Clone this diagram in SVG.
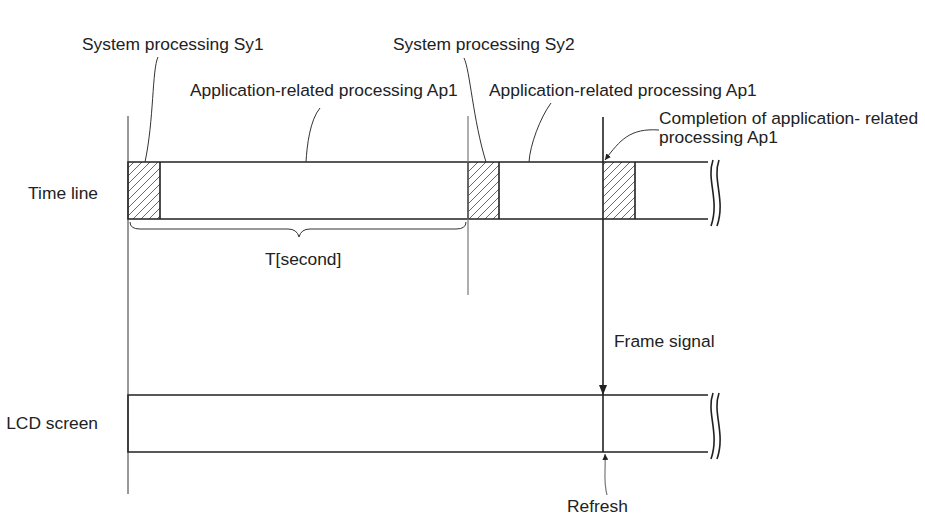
<svg xmlns="http://www.w3.org/2000/svg" width="925" height="520" viewBox="0 0 925 520">
<style>
text{font-family:"Liberation Sans",Arial,sans-serif;font-size:17.4px;fill:#222}
.l{stroke:#222;stroke-width:1.6;fill:none}
.t{stroke:#333;stroke-width:1;fill:none}
.g{stroke:#777;stroke-width:1.2;fill:none}
</style>
<defs>
<pattern id="h" width="8" height="8" patternUnits="userSpaceOnUse"><path d="M-2,10 L10,-2 M-2,2 L2,-2 M6,10 L10,6" stroke="#444" stroke-width="0.8"/></pattern>
<marker id="a" markerWidth="10" markerHeight="8" refX="10" refY="4" orient="auto" markerUnits="userSpaceOnUse"><path d="M0,0 L10,4 L0,8 Z" fill="#222"/></marker>
<marker id="s" markerWidth="6" markerHeight="6" refX="6" refY="3" orient="auto" markerUnits="userSpaceOnUse"><path d="M0,0 L6,3 L0,6 Z" fill="#222"/></marker>
</defs>
<rect width="925" height="520" fill="#fff"/>
<g id="timeline">
<rect x="128" y="162" width="32" height="57" fill="url(#h)"/>
<rect x="468" y="162" width="31" height="57" fill="url(#h)"/>
<rect x="603" y="162" width="32" height="57" fill="url(#h)"/>
<path class="l" d="M708,162 H128 V219 H708 M160,162 V219 M468,162 V219 M499,162 V219 M635,162 V219"/>
<path class="l" d="M713,160 C706,180 720,200 711,226 M719,160 C712,180 726,200 717,226"/>
<text x="98" y="199" text-anchor="end">Time line</text>
</g>
<g id="lcd">
<path class="l" d="M708,395 H128 V452 H708"/>
<path class="l" d="M713,393 C706,413 720,433 711,459 M719,393 C712,413 726,433 717,459"/>
<text x="98" y="429" text-anchor="end">LCD screen</text>
</g>
<g id="labels">
<text x="82" y="50">System processing Sy1</text>
<text x="190" y="96">Application-related processing Ap1</text>
<text x="393" y="50">System processing Sy2</text>
<text x="489" y="96">Application-related processing Ap1</text>
<text x="659" y="124">Completion of application- related</text>
<text x="659" y="143">processing Ap1</text>
<text x="265" y="265">T[second]</text>
<text x="614" y="347">Frame signal</text>
<text x="567" y="512">Refresh</text>
</g>
<g id="connectors">
<path class="t" d="M128,116 V494"/>
<path class="g" d="M468,116 V295"/>
<path class="l" d="M603,117 V395" marker-end="url(#a)"/>
<path class="l" d="M603,395 V452"/>
<path class="t" d="M158,57 C152,70 154,120 145,162"/>
<path class="t" d="M320,108 C310,120 307,145 306,162"/>
<path class="t" d="M464,58 C470,70 473,120 486,162"/>
<path class="t" d="M551,103 C540,118 530,145 529,162"/>
<path class="t" d="M659,130 C630,128 620,140 605,160" marker-end="url(#s)"/>
<path class="g" d="M607,495 C603,480 606,470 605,454" marker-end="url(#s)"/>
<path class="t" d="M130,222 Q130,229 140,229 H288 Q297,229 299,237 Q301,229 310,229 H456 Q466,229 466,222"/>
</g>
</svg>
